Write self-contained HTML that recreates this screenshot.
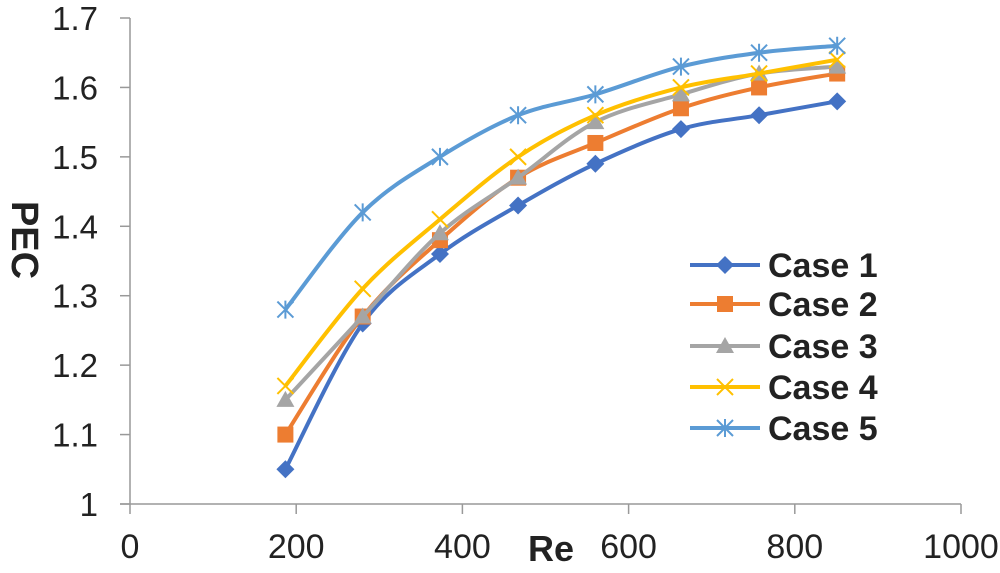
<!DOCTYPE html>
<html><head><meta charset="utf-8"><style>
body{margin:0;background:#fff;}
svg{display:block;font-family:"Liberation Sans",Arial,sans-serif;}
</style></head><body>
<svg id="chart" width="1000" height="573" viewBox="0 0 1000 573">
<g id="axes"></g><g id="series"></g><g id="legend"></g>
</svg>
<script>
const reValues=[187,280,373,467,560,663,757,851];
const case1=[1.05,1.26,1.36,1.43,1.49,1.54,1.56,1.58];
const case2=[1.10,1.27,1.38,1.47,1.52,1.57,1.60,1.62];
const case3=[1.15,1.27,1.39,1.47,1.55,1.59,1.62,1.63];
const case4=[1.17,1.31,1.41,1.50,1.56,1.60,1.62,1.64];
const case5=[1.28,1.42,1.50,1.56,1.59,1.63,1.65,1.66];
const seriesNames=["Case 1","Case 2","Case 3","Case 4","Case 5"];
const xTicks=[0,200,400,600,800,1000];
const yTicks=[1,1.1,1.2,1.3,1.4,1.5,1.6,1.7];

const NS="http://www.w3.org/2000/svg";
const X0=130,X1=961,Y0=504,Y1=18;
const xs=v=>X0+(v/1000)*(X1-X0);
const ys=v=>Y0-((v-1)/0.7)*(Y0-Y1);
function mk(tag,attrs,parent){const e=document.createElementNS(NS,tag);for(const k in attrs)e.setAttribute(k,attrs[k]);parent.appendChild(e);return e;}
const axes=document.getElementById('axes'),ser=document.getElementById('series'),leg=document.getElementById('legend');

let a=mk('line',{x1:X0,y1:Y1,x2:X0,y2:Y0,stroke:'#999','stroke-width':1.5},axes);

a=mk('line',{x1:X0-10,y1:Y0,x2:X1,y2:Y0,stroke:'#999','stroke-width':1.5},axes);

yTicks.forEach(t=>{
 const l=mk('line',{x1:X0-10,y1:ys(t),x2:X0,y2:ys(t),stroke:'#999','stroke-width':1.5},axes);
 
 const tx=mk('text',{x:X0-32,y:ys(t)+12,'text-anchor':'end','font-size':33,fill:'#222'},axes);
 tx.textContent=(t===1?'1':t.toFixed(1));
 
});
xTicks.forEach(t=>{
 const l=mk('line',{x1:xs(t),y1:Y0,x2:xs(t),y2:Y0+10,stroke:'#999','stroke-width':1.5},axes);
 
 const tx=mk('text',{x:xs(t),y:558,'text-anchor':'middle','font-size':34,fill:'#222'},axes);
 tx.textContent=t;
 
});
let t=mk('text',{x:551,y:561,'text-anchor':'middle','font-size':36,'font-weight':'bold',fill:'#222'},axes);
t.textContent='Re';
t=mk('text',{x:0,y:0,transform:'translate(12,240) rotate(90)','text-anchor':'middle','font-size':38,'font-weight':'bold',fill:'#222'},axes);
t.textContent='PEC';

const colors=['#4472C4','#ED7D31','#A5A5A5','#FFC000','#5B9BD5'];
const data=[case1,case2,case3,case4,case5];
function smooth(p){let d=`M${p[0][0]},${p[0][1]}`;for(let i=0;i<p.length-1;i++){const p0=p[i-1]||p[i],p1=p[i],p2=p[i+1],p3=p[i+2]||p2;const c1=[p1[0]+(p2[0]-p0[0])/6,p1[1]+(p2[1]-p0[1])/6],c2=[p2[0]-(p3[0]-p1[0])/6,p2[1]-(p3[1]-p1[1])/6];d+=` C${c1[0]},${c1[1]} ${c2[0]},${c2[1]} ${p2[0]},${p2[1]}`;}return d;}
function marker(k,x,y,c,g){
 let e;
 if(k===0)e=mk('polygon',{points:`${x},${y-9} ${x+9},${y} ${x},${y+9} ${x-9},${y}`,fill:c},g);
 else if(k===1)e=mk('rect',{x:x-8,y:y-8,width:16,height:16,fill:c},g);
 else if(k===2)e=mk('polygon',{points:`${x},${y-9} ${x+9},${y+7} ${x-9},${y+7}`,fill:c},g);
 else if(k===3)e=mk('path',{d:`M${x-8},${y-8}L${x+8},${y+8}M${x+8},${y-8}L${x-8},${y+8}`,stroke:c,'stroke-width':2},g);
 else e=mk('path',{d:`M${x-8},${y-8}L${x+8},${y+8}M${x+8},${y-8}L${x-8},${y+8}M${x},${y-9}L${x},${y+9}`,stroke:c,'stroke-width':2},g);
 return e;
}
data.forEach((vals,k)=>{
 const g=mk('g',{},ser);
 
 const pts=vals.map((v,i)=>[xs(reValues[i]),ys(v)]);
 const p=mk('path',{d:smooth(pts),fill:'none',stroke:colors[k],'stroke-width':4},g);
 
 pts.forEach(q=>{const m=marker(k,q[0],q[1],colors[k],g);
  });
});
const legY=[265,304,346,387,428];
seriesNames.forEach((n,k)=>{
 const g=mk('g',{},leg);
 
 mk('line',{x1:690,y1:legY[k],x2:760,y2:legY[k],stroke:colors[k],'stroke-width':4},g);
 marker(k,725,legY[k],colors[k],g);
 const tx=mk('text',{x:768,y:legY[k]+12,'font-size':34,'font-weight':'bold',fill:'#222'},g);
 tx.textContent=n;
});
</script>
</body></html>
